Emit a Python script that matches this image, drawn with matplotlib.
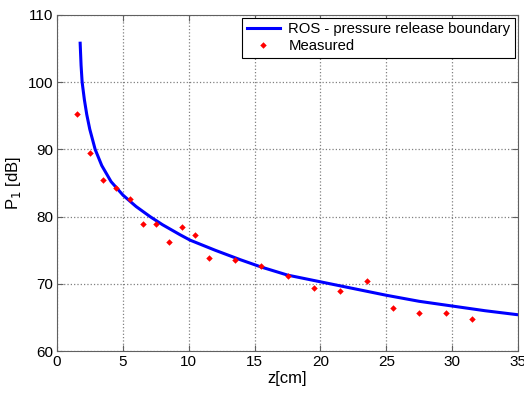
import numpy as np
import matplotlib.pyplot as plt

plt.rcParams['font.family'] = ['Liberation Sans', 'DejaVu Sans']

# ROS model curve
z_model = [1.75, 1.82, 1.9, 2.07, 2.25, 2.48, 2.89, 3.39, 4.1, 5.0, 6.0, 7.06, 8.0,
           9.34, 10.1, 12.0, 13.9, 15.5, 17.5, 20.0, 22.5, 25.0, 27.5, 30.0, 32.5, 35.0]
p_model = [105.8, 102.5, 100.0, 97.4, 95.2, 93.0, 90.0, 87.6, 85.2, 83.2, 81.5, 80.0, 78.8,
           77.3, 76.5, 75.0, 73.6, 72.5, 71.3, 70.3, 69.3, 68.3, 67.4, 66.7, 66.0, 65.4]

# measured points
z_meas = [1.5, 2.5, 3.5, 4.5, 5.5, 6.5, 7.5, 8.5, 9.5, 10.5, 11.5, 13.5,
          15.5, 17.5, 19.5, 21.5, 23.5, 25.5, 27.5, 29.5, 31.5]
p_meas = [95.2, 89.4, 85.5, 84.2, 82.6, 78.9, 78.9, 76.2, 78.5, 77.3, 73.9, 73.6,
          72.6, 71.2, 69.4, 69.0, 70.4, 66.4, 65.7, 65.7, 64.7]

fig = plt.figure(figsize=(5.24, 3.94), dpi=100)
ax = fig.add_axes([0.109, 0.109, 0.8795, 0.853])

ax.plot(z_model, p_model, color='#0000ff', lw=2.2, label='ROS - pressure release boundary')
ax.plot(z_meas, p_meas, 'D', color='#ff0000', ms=3.3, mew=0, label='Measured')

ax.set_xlim(0, 35)
ax.set_ylim(60, 110)
ax.set_xticks(np.arange(0, 36, 5))
ax.set_yticks(np.arange(60, 111, 10))
ax.grid(True, ls=':', color='#808080', lw=0.9)
ax.tick_params(direction='in', top=True, right=True, labelsize=11, length=4,
               color='#606060', pad=3)
for s in ax.spines.values():
    s.set_color('#606060')

ax.set_xlabel('z[cm]', fontsize=12, labelpad=1)
ax.set_ylabel('P$_1$ [dB]', fontsize=12, labelpad=3)

leg = ax.legend(loc='upper right', fontsize=10.7, fancybox=False, framealpha=1,
                edgecolor='black', borderaxespad=0.2, handlelength=2.2,
                borderpad=0.3, labelspacing=0.2, handletextpad=0.6)
leg.get_frame().set_linewidth(0.8)

fig.savefig('out.png', dpi=100)
